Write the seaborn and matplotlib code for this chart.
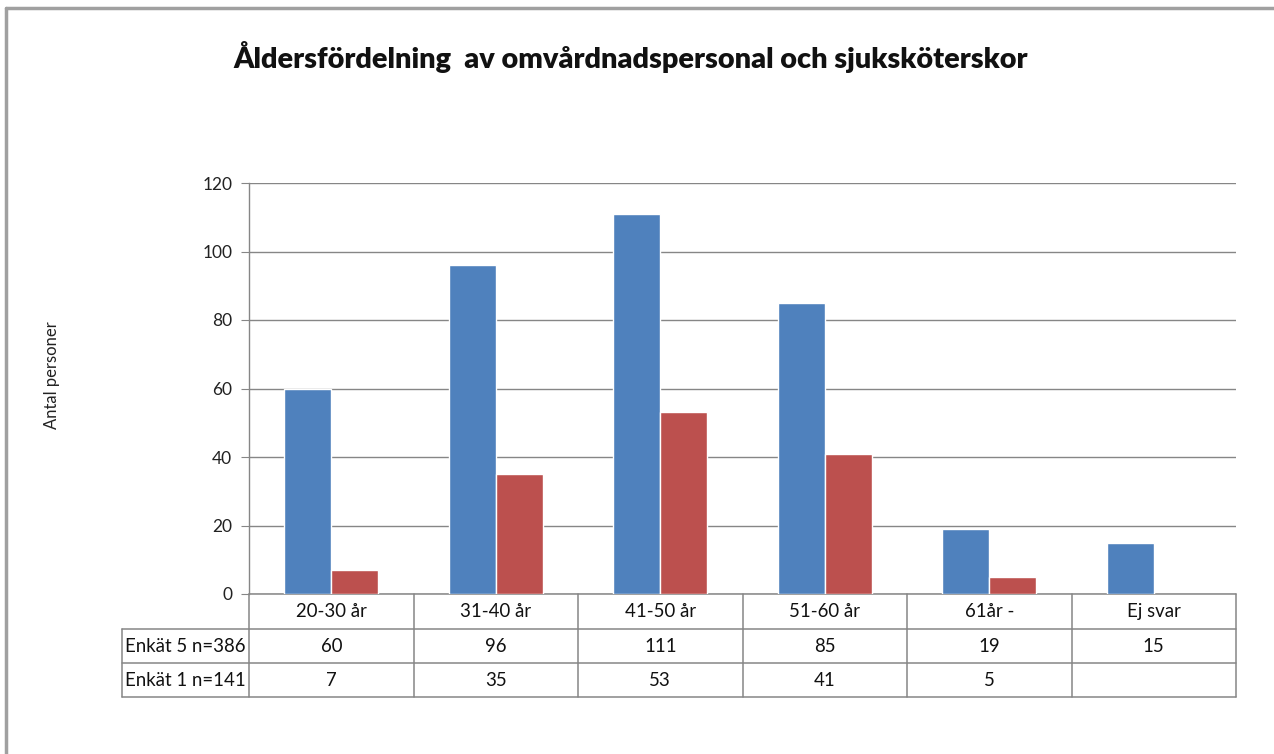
import numpy as np
import pandas as pd
import matplotlib.pyplot as plt
from matplotlib.lines import Line2D
from matplotlib.transforms import blended_transform_factory
import seaborn as sns

# data
kategorier = ['20-30 år', '31-40 år', '41-50 år', '51-60 år', '61år -', 'Ej svar']
serier = ['Enkät 5 n=386', 'Enkät 1 n=141']
enkat5 = [60, 96, 111, 85, 19, 15]
enkat1 = [7, 35, 53, 41, 5, np.nan]
farger = ['#4F81BD', '#BC504E']

df = pd.DataFrame({
    'kategori': kategorier * 2,
    'serie': [serier[0]] * 6 + [serier[1]] * 6,
    'antal': enkat5 + enkat1,
})

sns.set_style("white")
plt.rcParams['font.family'] = ['Lato', 'DejaVu Sans']

W, H = 1274, 754
fig = plt.figure(figsize=(W / 100, H / 100), dpi=100)
ax = fig.add_axes([249 / W, 1 - 594 / H, (1236 - 249) / W, (594 - 183) / H])

sns.barplot(data=df, x='kategori', y='antal', hue='serie', palette=farger,
            width=0.57, saturation=1, ax=ax, legend=False, zorder=3)

grid = '#868686'
ax.set_xlim(-0.5, 5.5)
ax.set_ylim(0, 120)
ax.set_yticks(range(0, 121, 20))
ax.yaxis.grid(True, color=grid, lw=1)
ax.set_axisbelow(True)
for s in ['top', 'right', 'bottom']:
    ax.spines[s].set_visible(False)
ax.spines['left'].set_color(grid)
ax.spines['left'].set_linewidth(1)
ax.tick_params(axis='y', left=True, length=6, color=grid, labelsize=12.5,
               labelcolor='#222222', pad=6)
ax.tick_params(axis='x', bottom=False, labelbottom=False)
ax.set_xlabel('')
ax.set_ylabel('')

# datatabell under diagrammet
tr = blended_transform_factory(ax.transData, ax.transAxes)
axh = 594 - 183
rad = [0, -35 / axh, -69 / axh, -103 / axh]
xv = -0.5 - 127 / ((1236 - 249) / 6)
lkw = dict(color=grid, lw=1.1, transform=tr, clip_on=False)
ax.plot([-0.5, 5.5], [0, 0], **lkw)
for y in rad[1:]:
    ax.plot([xv, 5.5], [y, y], **lkw)
for x in np.arange(-0.5, 6.0, 1.0):
    ax.plot([x, x], [0, rad[-1]], **lkw)
ax.plot([xv, xv], [rad[1], rad[-1]], **lkw)

tkw = dict(transform=tr, fontsize=13.4, color='#111111', va='center', clip_on=False)
for i, k in enumerate(kategorier):
    ax.text(i, (rad[0] + rad[1]) / 2, k, ha='center', **tkw)
for r, (namn, vals) in enumerate(zip(serier, [enkat5, enkat1])):
    ym = (rad[r + 1] + rad[r + 2]) / 2
    ax.text(xv + 0.02, ym, namn, ha='left', **tkw)
    for i, v in enumerate(vals):
        if not np.isnan(v):
            ax.text(i, ym, f'{int(v)}', ha='center', **tkw)

fig.text(52 / W, 1 - 375 / H, 'Antal personer', rotation=90, ha='center',
         va='center', fontsize=12, color='#222222')
fig.text(631 / W, 1 - 57 / H, 'Åldersfördelning  av omvårdnadspersonal och sjuksköterskor',
         ha='center', va='center', fontsize=20.8, fontweight='heavy', color='#111111')

# ram runt diagrammet
rkw = dict(color='#A0A0A0', lw=2.5, transform=fig.transFigure)
fig.add_artist(Line2D([6 / W, 1.01], [1 - 8 / H, 1 - 8 / H], **rkw))
fig.add_artist(Line2D([6 / W, 6 / W], [1 - 8 / H, -0.01], **rkw))

fig.savefig('out.png', dpi=100)
